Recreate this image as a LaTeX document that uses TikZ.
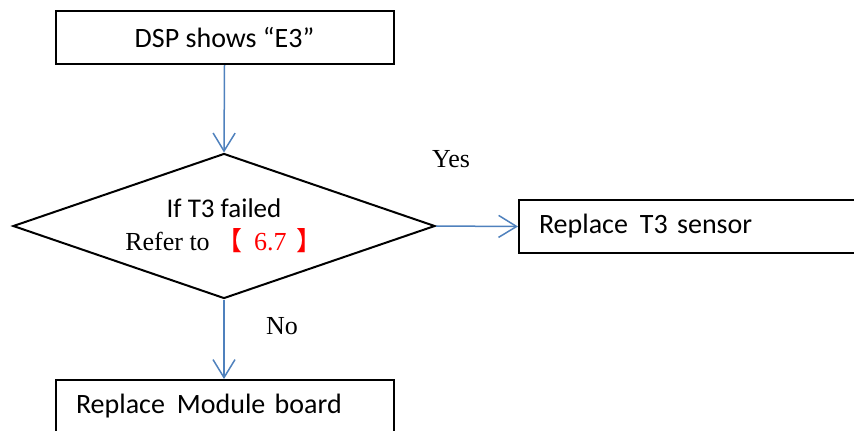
\documentclass[tikz,border=0pt]{standalone}
\usepackage{fontspec}
\setmainfont{Liberation Serif}
\newfontfamily\calib{Carlito}
\newfontfamily\cjk{Noto Sans CJK SC}
\usetikzlibrary{arrows.meta,shapes.geometric}
\definecolor{linkblue}{HTML}{4F81BD}
\definecolor{refred}{HTML}{FF0000}
\tikzset{
  stepbox/.style={draw=black, line width=1pt, minimum height=26.5pt,
    inner sep=0pt, font=\calib\fontsize{14}{15.5}\selectfont},
  leftbox/.style={stepbox, inner xsep=10pt, align=left},
  check/.style={draw=black, line width=1pt, shape=diamond, aspect=2.9,
    minimum width=211pt, minimum height=72.5pt, inner sep=0pt, align=center,
    font=\fontsize{13}{15.5}\selectfont},
  link/.style={-{Straight Barb[length=9pt,width=11pt]}, line width=0.75pt,
    color=linkblue},
  answer/.style={font=\fontsize{13}{15.5}\selectfont},
}
\begin{document}
\begin{tikzpicture}[x=0.5pt,y=-0.5pt]
  \useasboundingbox (0,0) rectangle (854,430);
  \clip (0,0) rectangle (854,430);
  % steps
  \node[stepbox, minimum width=169pt] (dsp) at (224.5,37.5) {DSP shows “E3”};
  \node[check] (t3) at (224,226)
      {{\calib\fontsize{13.5}{15.5}\selectfont If T3 failed}\\[1pt]Refer to
       \textcolor{refred}{{\cjk 【}\hspace{6pt}6.7\hspace{5pt}{\cjk 】}}};
  \node[leftbox, text width=156pt, anchor=north west] (sensor) at (518,199)
      {Replace\hspace{6pt}T3 sensor};
  \node[leftbox, text width=149pt, anchor=north west] (board) at (55,379)
      {Replace\hspace{6pt}Module board};
  % links
  \draw[link] (dsp.south) -- (t3.north);
  \draw[link] (t3.east) -- (sensor.west);
  \draw[link] (t3.south) -- (board.north -| t3.south);
  \node[answer] (yes) at (451,159) {Yes};
  \node[answer] (no) at (282,326) {No};
\end{tikzpicture}
\end{document}
